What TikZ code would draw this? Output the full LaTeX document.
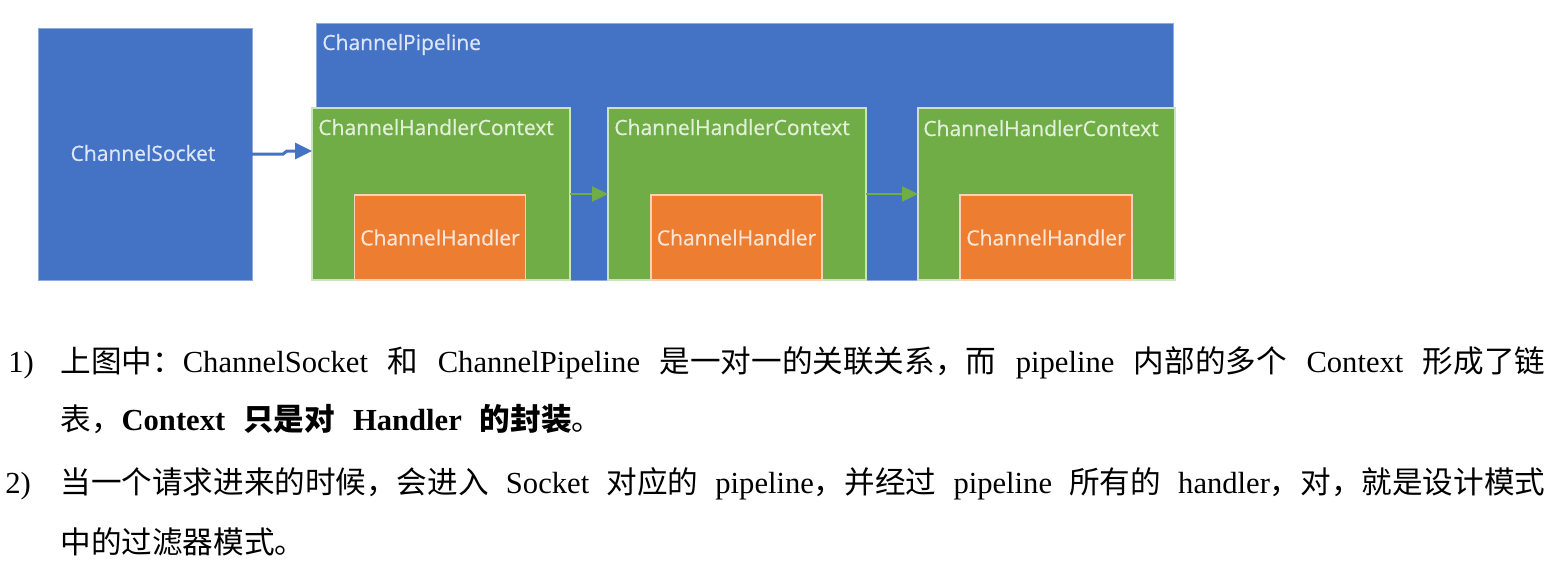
\documentclass[tikz,border=0pt]{standalone}
\usepackage{fontspec}
\setmainfont{Liberation Serif}
\newfontfamily\cjkfont{Noto Sans CJK SC}
\newfontfamily\uifont[FakeBold=0.6]{Open Sans}
\usetikzlibrary{arrows.meta}
\newcommand{\zh}[1]{{\cjkfont #1}}
\newcommand{\parafont}{\fontsize{15.3}{30}\selectfont\spaceskip=9pt plus 40pt minus 2pt\relax}
\definecolor{pipeblue}{HTML}{4472C4}
\definecolor{ctxgreen}{HTML}{70AD47}
\definecolor{hdorange}{HTML}{ED7D31}
\definecolor{txtblue}{HTML}{DCE6F6}
\definecolor{txtgreen}{HTML}{E2F0D9}
\definecolor{txtorange}{HTML}{FBE5D6}

\begin{document}
\begin{tikzpicture}[x=0.5pt,y=-0.5pt,
    box/.style={inner sep=0pt, outer sep=0pt},
    ctxbox/.style={box, fill=ctxgreen, draw=ctxgreen!35!white, line width=0.6pt,
        minimum width=129pt, minimum height=86pt},
    hdbox/.style={box, fill=hdorange, draw=hdorange!35!white, line width=0.6pt,
        minimum width=85.5pt, minimum height=42.5pt},
    uilabel/.style={inner sep=0pt, font=\uifont\fontsize{10.5}{12}\selectfont},
    para/.style={anchor=base west, inner sep=0pt, font=\parafont}]
        \useasboundingbox (0,0) rectangle (1559,574);
        \node[box, fill=pipeblue, draw=pipeblue!60!white, line width=0.4pt,
            minimum width=107pt, minimum height=126pt] (sock) at (145,154) {};
        \node[box, fill=pipeblue, draw=pipeblue!60!white, line width=0.4pt,
            minimum width=428.5pt, minimum height=128.5pt] (pipe) at (744.5,151.5) {};
        \node[ctxbox] (ctx1) at (441,194) {};
        \node[ctxbox] (ctx2) at (737,194) {};
        \node[ctxbox, minimum width=128.5pt] (ctx3) at (1046.5,194) {};
        \node[hdbox] (hd1) at (440,237.5) {};
        \node[hdbox] (hd2) at (736.5,237.5) {};
        \node[hdbox, minimum width=86pt] (hd3) at (1046,237.5) {};
        \node[uilabel, text=txtblue] (socklab) at (143,153) {ChannelSocket};
        \node[uilabel, text=txtblue, anchor=base west] (pipelab) at (322,50) {ChannelPipeline};
        \node[uilabel, text=txtgreen, anchor=base west] (ctxlab1) at (318,135) {ChannelHandlerContext};
        \node[uilabel, text=txtgreen, anchor=base west] (ctxlab2) at (614,135) {ChannelHandlerContext};
        \node[uilabel, text=txtgreen, anchor=base west] (ctxlab3) at (923,136) {ChannelHandlerContext};
        \node[uilabel, text=txtorange] (hdlab1) at (hd1.center) {ChannelHandler};
        \node[uilabel, text=txtorange] (hdlab2) at (hd2.center) {ChannelHandler};
        \node[uilabel, text=txtorange] (hdlab3) at (hd3.center) {ChannelHandler};
        \coordinate (ctxin) at (312,151);
        \draw [pipeblue, line width=1.5pt, -{Triangle[length=8.5pt,width=8pt]}]
            (sock.east) -- ++(31,0) -- ++(4,-3) -- (ctxin);
        \draw [ctxgreen, line width=1.2pt, -{Triangle[length=8pt,width=7.5pt]}] (ctx1.east) -- (ctx2.west);
        \draw [ctxgreen, line width=1.2pt, -{Triangle[length=8pt,width=7.5pt]}] (ctx2.east) -- (ctx3.west);
        \node[para] (num1) at (8,372) {1)};
        \node[para] (line1) at (60,372) {\hbox to 742.5pt{\zh{上图中：}ChannelSocket \zh{和} ChannelPipeline \zh{是一对一的关联关系，而} pipeline \zh{内部的多个} Context \zh{形成了链}}};
        \node[para] (line2) at (60,430) {\zh{表，}\textbf{Context \zh{只是对} Handler \zh{的封装}}\zh{。}};
        \node[para] (num2) at (5,493) {2)};
        \node[para] (line3) at (60,493) {\hbox to 742.5pt{\zh{当一个请求进来的时候，会进入} Socket \zh{对应的} pipeline\zh{，并经过} pipeline \zh{所有的} handler\zh{，对，就是设计模式}}};
        \node[para] (line4) at (60,553) {\zh{中的过滤器模式。}};
\end{tikzpicture}
\end{document}
